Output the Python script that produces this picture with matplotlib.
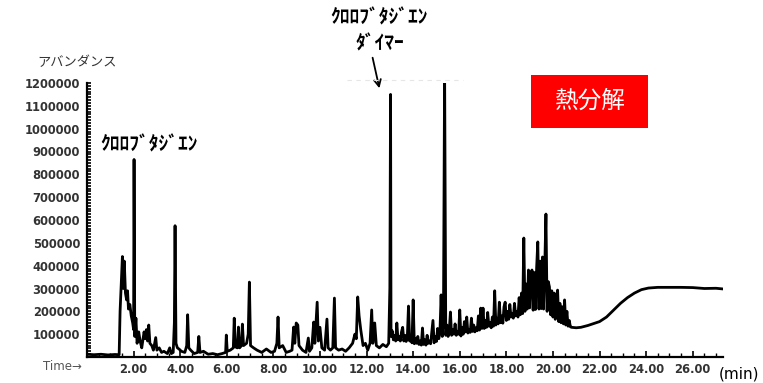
import numpy as np
import matplotlib
matplotlib.use("Agg")
import matplotlib.pyplot as plt
from matplotlib.ticker import MultipleLocator, FuncFormatter

# ---- data (time in min, abundance in thousands) ----
# 0 - 13.03 min
time_early = [
    0.00, 0.30, 0.60, 0.90, 1.20, 1.38, 1.42, 1.48, 1.52, 1.56, 1.60, 1.65, 1.70, 1.74, 1.78, 1.84,
    1.90, 1.96, 2.00, 2.02, 2.05, 2.10, 2.15, 2.22, 2.28, 2.35, 2.45, 2.50, 2.55, 2.60, 2.65, 2.70,
    2.78, 2.85, 2.95, 3.00, 3.10, 3.20, 3.30, 3.45, 3.55, 3.62, 3.70, 3.75, 3.78, 3.82, 3.88, 3.95,
    4.05, 4.20, 4.28, 4.32, 4.37, 4.45, 4.60, 4.75, 4.80, 4.85, 5.00, 5.20, 5.40, 5.60, 5.80, 5.95,
    5.98, 6.02, 6.15, 6.28, 6.32, 6.36, 6.45, 6.50, 6.55, 6.63, 6.67, 6.72, 6.85, 6.92, 6.97, 7.02,
    7.15, 7.30, 7.50, 7.70, 7.90, 8.05, 8.15, 8.20, 8.25, 8.40, 8.55, 8.70, 8.80, 8.87, 8.92, 8.98,
    9.05, 9.10, 9.25, 9.40, 9.50, 9.55, 9.65, 9.73, 9.78, 9.88, 9.93, 10.00, 10.08, 10.20, 10.30, 10.35,
    10.45, 10.55, 10.62, 10.67, 10.80, 10.95, 11.10, 11.25, 11.40, 11.50, 11.56, 11.62, 11.68, 11.75, 11.85, 11.95,
    12.05, 12.15, 12.22, 12.27, 12.35, 12.42, 12.55, 12.70, 12.85, 12.95, 13.00, 13.03,
]
abund_early = [
    12, 10, 12, 9, 11, 10, 200, 350, 440, 300, 420, 280, 250, 290, 210, 230,
    180, 150, 120, 865, 90, 170, 60, 110, 70, 40, 110, 80, 120, 70, 140, 60,
    50, 30, 85, 30, 40, 20, 25, 15, 40, 15, 20, 150, 575, 60, 40, 35,
    25, 20, 50, 185, 40, 30, 15, 20, 90, 20, 25, 12, 15, 10, 15, 20,
    96, 25, 30, 40, 170, 45, 40, 131, 40, 50, 144, 50, 60, 100, 328, 50,
    40, 30, 20, 35, 20, 25, 60, 175, 40, 50, 20, 25, 30, 131, 60, 149,
    140, 50, 30, 20, 83, 25, 40, 153, 60, 240, 70, 130, 40, 30, 166, 40,
    30, 40, 258, 40, 30, 35, 25, 40, 60, 100, 80, 263, 180, 120, 50, 60,
    30, 60, 206, 60, 149, 50, 40, 55, 45, 60, 302, 1150,
]
# 13.05 - 20.80 min (dense noisy band)
time_mid = [
    13.05, 13.10, 13.15, 13.20, 13.25, 13.30, 13.35, 13.40, 13.45, 13.50, 13.55, 13.60, 13.65, 13.70, 13.75, 13.80, 13.85, 13.90, 13.95, 14.00,
    14.05, 14.10, 14.15, 14.20, 14.25, 14.30, 14.35, 14.40, 14.45, 14.50, 14.55, 14.60, 14.65, 14.70, 14.75, 14.80, 14.85, 14.90, 14.95, 15.00,
    15.05, 15.10, 15.15, 15.20, 15.25, 15.30, 15.35, 15.40, 15.45, 15.50, 15.55, 15.60, 15.65, 15.70, 15.75, 15.80, 15.85, 15.90, 15.95, 16.00,
    16.05, 16.10, 16.15, 16.20, 16.25, 16.30, 16.35, 16.40, 16.45, 16.50, 16.55, 16.60, 16.65, 16.70, 16.75, 16.80, 16.85, 16.90, 16.95, 17.00,
    17.05, 17.10, 17.15, 17.20, 17.25, 17.30, 17.35, 17.40, 17.45, 17.50, 17.55, 17.60, 17.65, 17.70, 17.75, 17.80, 17.85, 17.90, 17.95, 18.00,
    18.05, 18.10, 18.15, 18.20, 18.25, 18.30, 18.35, 18.40, 18.45, 18.50, 18.55, 18.60, 18.65, 18.70, 18.75, 18.80, 18.85, 18.90, 18.95, 19.00,
    19.05, 19.10, 19.15, 19.20, 19.25, 19.30, 19.35, 19.40, 19.45, 19.50, 19.55, 19.60, 19.65, 19.70, 19.75, 19.80, 19.85, 19.90, 19.95, 20.00,
    20.05, 20.10, 20.15, 20.20, 20.25, 20.30, 20.35, 20.40, 20.45, 20.50, 20.55, 20.60, 20.65, 20.70, 20.75, 20.80,
]
abund_mid = [
    90, 115, 75, 95, 70, 149, 75, 90, 70, 110, 130, 70, 95, 68, 88, 223, 70, 90, 62, 250,
    58, 80, 60, 90, 55, 70, 52, 127, 55, 75, 52, 95, 60, 70, 58, 110, 160, 62, 90, 68,
    125, 80, 110, 272, 90, 150, 1260, 95, 140, 90, 115, 197, 95, 120, 100, 145, 95, 110, 100, 206,
    92, 130, 100, 155, 110, 175, 105, 120, 108, 170, 112, 140, 110, 128, 115, 180, 118, 214, 125, 214,
    125, 160, 130, 195, 135, 150, 128, 175, 135, 290, 140, 170, 145, 240, 150, 180, 148, 220, 240, 160,
    200, 165, 230, 175, 190, 170, 235, 180, 200, 175, 260, 185, 280, 190, 521, 200, 320, 210, 381, 215,
    350, 381, 205, 370, 208, 390, 504, 210, 420, 212, 438, 210, 400, 626, 200, 330, 307, 185, 290, 175,
    280, 165, 260, 293, 155, 235, 150, 220, 145, 250, 140, 200, 135, 160, 132, 130,
]
# 21.00 - end (smooth column-bleed rise)
time_late = [21.00, 21.20, 21.50, 21.80, 22.00, 22.30, 22.60, 22.90, 23.20, 23.50, 23.80,
             24.10, 24.50, 25.00, 25.50, 26.00, 26.50, 27.00, 27.30]
abund_late = [128, 130, 138, 148, 155, 175, 205, 235, 260, 280, 295,
              302, 305, 305, 305, 304, 300, 301, 298]

time_min = time_early + time_mid + time_late
abundance = np.array(abund_early + abund_mid + abund_late) * 1000

y_ticks = [100000 * i for i in range(1, 13)]
x_ticks = [2, 4, 6, 8, 10, 12, 14, 16, 18, 20, 22, 24, 26]

W, H = 763, 383
fig = plt.figure(figsize=(W / 100, H / 100), dpi=100)
fig.patch.set_facecolor("white")

def fx(px):
    return px / W

def fy(py):
    return 1 - py / H

ax = fig.add_axes([fx(87), fy(357), (723 - 87) / W, (357 - 83) / H])
ax.plot(time_min, abundance, color="black", lw=2.0, solid_joinstyle="round")
ax.set_xlim(0, 27.3)
ax.set_ylim(0, 1200000)

for s in ["top", "right"]:
    ax.spines[s].set_visible(False)
for s in ["left", "bottom"]:
    ax.spines[s].set_linewidth(1.6)
    ax.spines[s].set_color("black")

ax.set_yticks(y_ticks)
ax.yaxis.set_minor_locator(MultipleLocator(12500))
ax.set_xticks(x_ticks)
ax.xaxis.set_minor_locator(MultipleLocator(0.5))
ax.yaxis.set_major_formatter(FuncFormatter(lambda v, p: f"{int(v)}"))
ax.xaxis.set_major_formatter(FuncFormatter(lambda v, p: f"{v:.2f}"))
ax.tick_params(axis="y", which="both", direction="in", length=3, width=1.2, pad=5,
               labelsize=8.3, labelcolor="#333333")
ax.tick_params(axis="x", which="major", direction="in", length=4, width=1.2, pad=4,
               labelsize=8.3, labelcolor="#333333")
ax.tick_params(axis="x", which="minor", direction="in", length=3, width=1.0)
for lab in ax.get_xticklabels() + ax.get_yticklabels():
    lab.set_fontweight("bold")
    lab.set_fontfamily("DejaVu Sans")

jp = ["Noto Sans CJK JP", "DejaVu Sans"]

fig.text(fx(37), fy(63), "アバンダンス", family=jp, fontsize=9.5, color="#333333",
         ha="left", va="center")
fig.text(fx(43), fy(367), "Time→", family="DejaVu Sans", fontsize=8.5, color="#555555",
         ha="left", va="center")
fig.text(fx(719), fy(374), "(min)", family="DejaVu Sans", fontsize=11, color="black",
         ha="left", va="center")

fig.text(fx(100), fy(145), "ｸﾛﾛﾌﾞﾀｼﾞｴﾝ", family=jp, fontsize=14, color="black",
         ha="left", va="center", fontweight="bold")
fig.text(fx(379), fy(18), "ｸﾛﾛﾌﾞﾀｼﾞｴﾝ", family=jp, fontsize=14, color="black",
         ha="center", va="center", fontweight="bold")
fig.text(fx(380), fy(44), "ﾀﾞｲﾏｰ", family=jp, fontsize=14, color="black",
         ha="center", va="center", fontweight="bold")
fig.add_artist(matplotlib.patches.FancyArrowPatch(
    (fx(372), fy(55)), (fx(380), fy(91)), transform=fig.transFigure,
    arrowstyle="->", mutation_scale=12, lw=1.3, color="black"))

# faint dashed guide near the top
fig.add_artist(matplotlib.lines.Line2D([fx(347), fx(463)], [fy(80), fy(80)],
               transform=fig.transFigure, color="#e6e6e6", lw=0.8, ls=(0, (4, 4))))

# red label box
fig.add_artist(matplotlib.patches.Rectangle((fx(531), fy(128)), (648 - 531) / W, (128 - 75) / H,
               transform=fig.transFigure, facecolor="#ff0000", edgecolor="none"))
fig.text(fx(590), fy(101), "熱分解", family=jp, fontsize=17, color="white",
         ha="center", va="center")

fig.savefig("out.png", dpi=100, facecolor="white")
